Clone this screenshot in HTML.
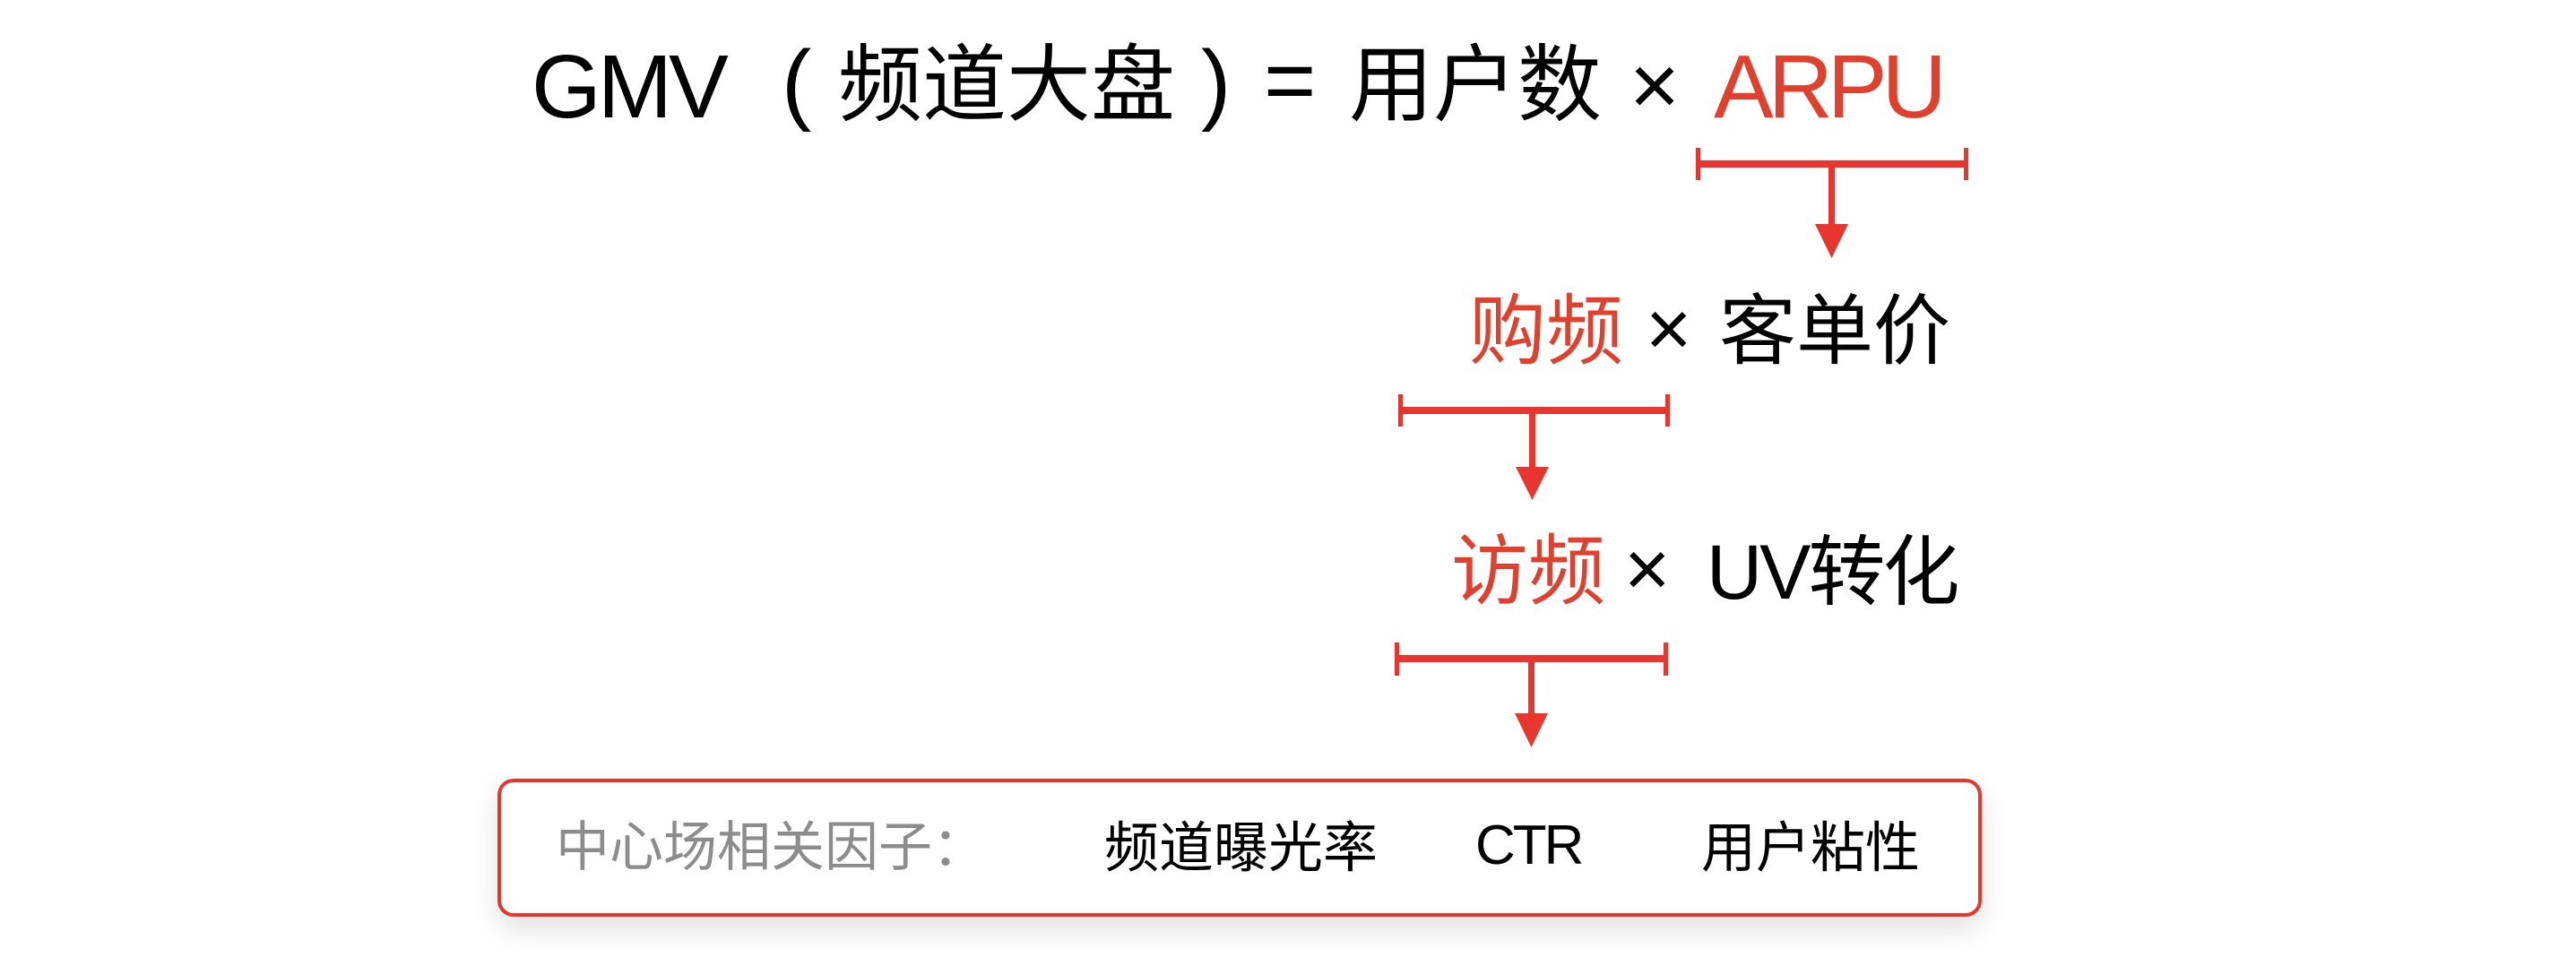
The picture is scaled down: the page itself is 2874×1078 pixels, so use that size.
<!DOCTYPE html>
<html><head><meta charset="utf-8"><style>
html,body{margin:0;padding:0;background:#fff;}
body{width:2874px;height:1078px;position:relative;overflow:hidden;font-family:"Liberation Sans","Noto Sans CJK SC",sans-serif;}
.t{position:absolute;white-space:nowrap;color:#000;}
.r{color:#e0402e;}
.b{position:absolute;background:#e8352d;}
</style></head><body>
<!-- title -->
<div class="t" style="left:593px;top:47px;font-size:100px;line-height:100px;letter-spacing:-4px;">GMV</div>
<div class="t" style="left:872px;top:42px;font-size:100px;line-height:100px;">(</div>
<div class="t" style="left:935px;top:48px;font-size:94px;line-height:94px;">频道大盘</div>
<div class="t" style="left:1340px;top:42px;font-size:100px;line-height:100px;">)</div>
<div class="t" style="left:1410px;top:40px;font-size:100px;line-height:100px;">=</div>
<div class="t" style="left:1505px;top:48px;font-size:94px;line-height:94px;">用户数</div>
<div class="t" style="left:1818px;top:46px;font-size:96px;line-height:100px;">×</div>
<div class="t r" style="left:1912px;top:47px;font-size:100px;line-height:100px;letter-spacing:-6px;">ARPU</div>
<!-- bracket 1 -->
<div class="b" style="left:1892px;top:179px;width:303px;height:8px;"></div>
<div class="b" style="left:1892px;top:165px;width:5px;height:36px;"></div>
<div class="b" style="left:2191px;top:165px;width:5px;height:36px;"></div>
<div class="b" style="left:2040px;top:183px;width:7px;height:72px;"></div>
<svg style="position:absolute;left:2025px;top:250px" width="38" height="40"><polygon points="0,0 37,0 18.5,38" fill="#e8352d"/></svg>
<!-- line 2 -->
<div class="t r" style="left:1639px;top:327px;font-size:86px;line-height:86px;">购频</div>
<div class="t" style="left:1836px;top:324px;font-size:88px;line-height:86px;">×</div>
<div class="t" style="left:1918px;top:327px;font-size:86px;line-height:86px;">客单价</div>
<!-- bracket 2 -->
<div class="b" style="left:1560px;top:454px;width:302px;height:8px;"></div>
<div class="b" style="left:1560px;top:440px;width:5px;height:36px;"></div>
<div class="b" style="left:1858px;top:440px;width:5px;height:36px;"></div>
<div class="b" style="left:1706px;top:458px;width:7px;height:68px;"></div>
<svg style="position:absolute;left:1691px;top:521px" width="38" height="40"><polygon points="0,0 37,0 18.5,37" fill="#e8352d"/></svg>
<!-- line 3 -->
<div class="t r" style="left:1619px;top:595px;font-size:86px;line-height:86px;">访频</div>
<div class="t" style="left:1812px;top:592px;font-size:88px;line-height:86px;">×</div>
<div class="t" style="left:1904px;top:596px;font-size:86px;line-height:86px;letter-spacing:-3px;">UV转化</div>
<!-- bracket 3 -->
<div class="b" style="left:1556px;top:731px;width:304px;height:8px;"></div>
<div class="b" style="left:1556px;top:717px;width:5px;height:37px;"></div>
<div class="b" style="left:1856px;top:717px;width:5px;height:37px;"></div>
<div class="b" style="left:1705px;top:735px;width:7px;height:66px;"></div>
<svg style="position:absolute;left:1690px;top:796px" width="38" height="40"><polygon points="0,0 37,0 18.5,38" fill="#e8352d"/></svg>
<!-- box -->
<div style="position:absolute;left:555px;top:869px;width:1648px;height:146px;border:4px solid #e8352d;border-radius:18px;background:#fff;box-shadow:0 14px 30px rgba(0,0,0,0.12);"></div>
<div class="t" style="left:620px;top:916px;font-size:60px;line-height:60px;color:#8c8c8c;">中心场相关因子：</div>
<div class="t" style="left:1232px;top:916px;font-size:61px;line-height:61px;">频道曝光率</div>
<div class="t" style="left:1646px;top:913px;font-size:62px;line-height:62px;letter-spacing:-3px;">CTR</div>
<div class="t" style="left:1898px;top:916px;font-size:61px;line-height:61px;">用户粘性</div>
</body></html>
